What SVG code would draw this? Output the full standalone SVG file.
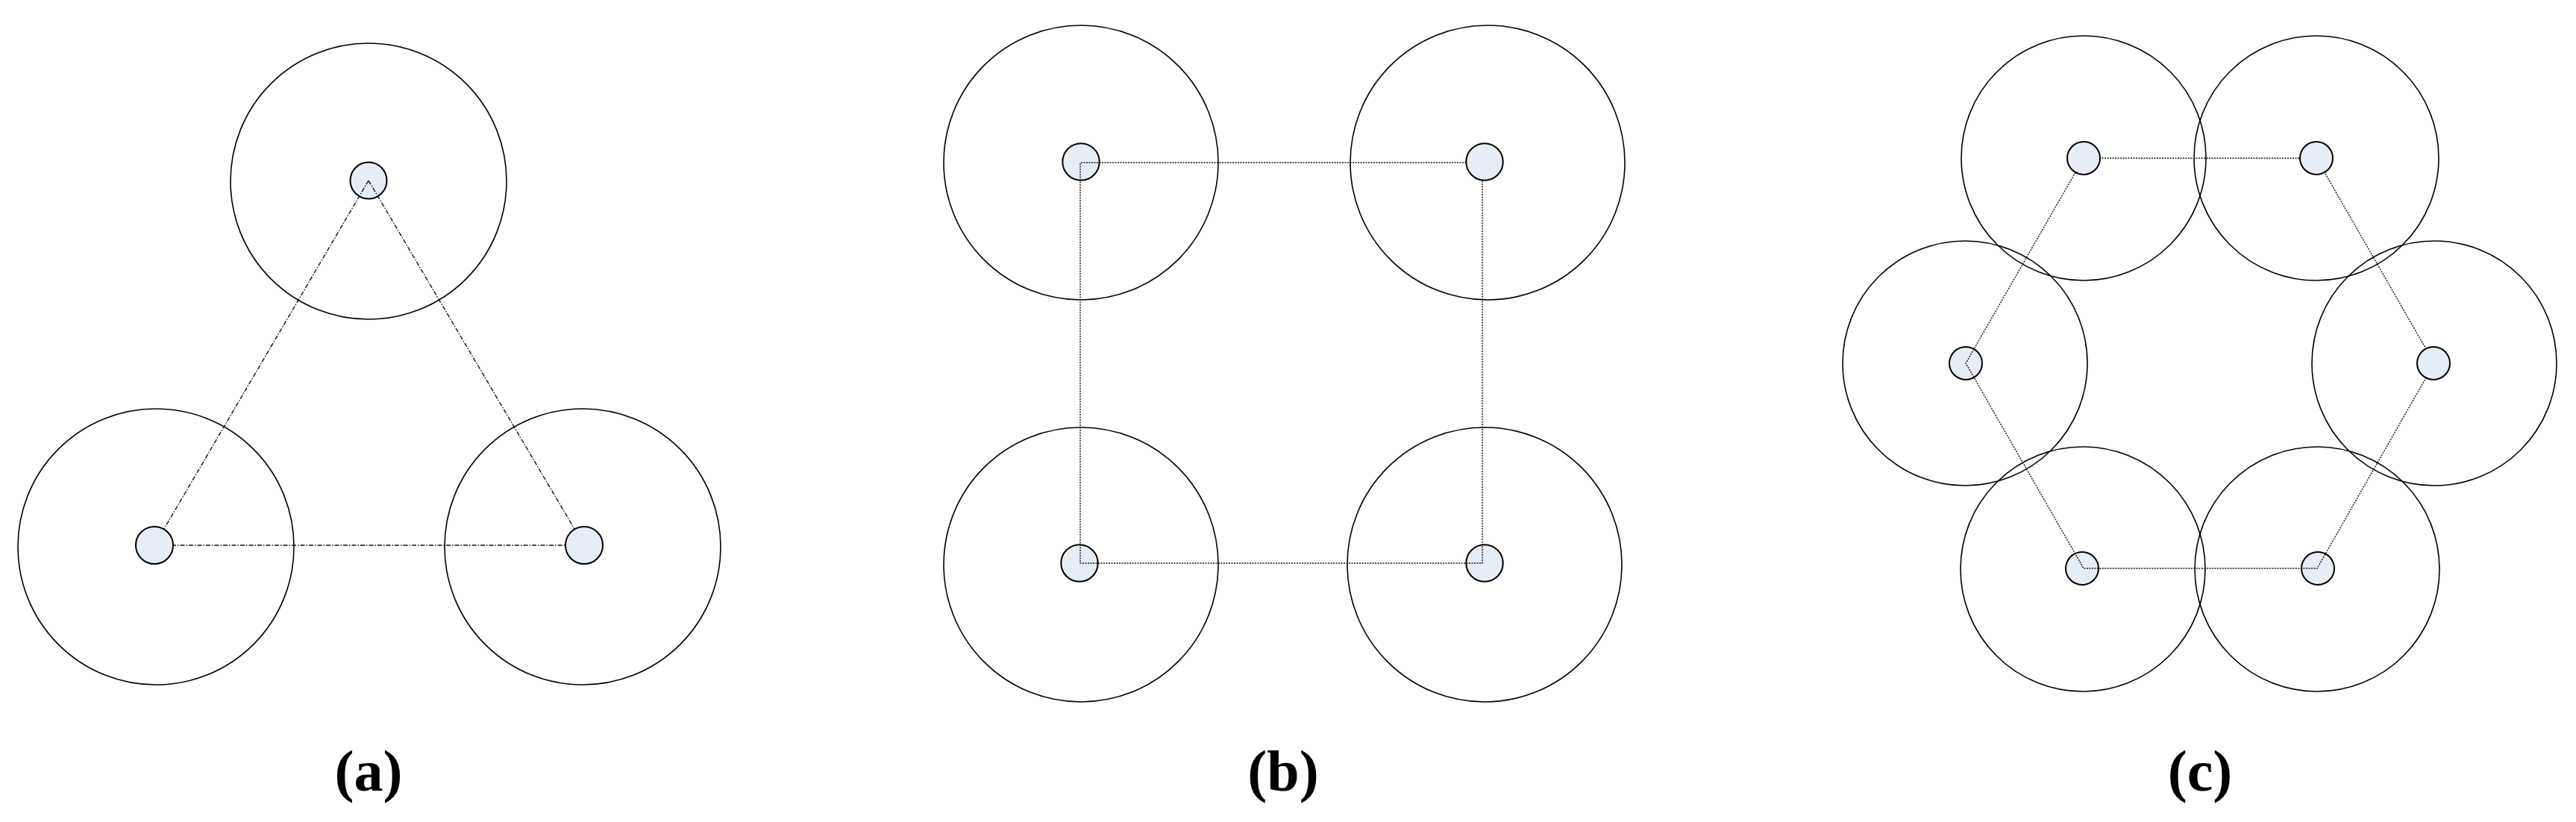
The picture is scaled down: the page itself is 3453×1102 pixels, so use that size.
<svg xmlns="http://www.w3.org/2000/svg" width="3453" height="1102" viewBox="0 0 3453 1102">
<style>
.range{fill:none;stroke:#000;stroke-width:1.6}
.node{fill:#E5EDF7;stroke:#000;stroke-width:2}
.link{stroke:#111;stroke-width:1.4;fill:none}
.dd{stroke-dasharray:6 2 1.5 2}
.dot{stroke-dasharray:2 1.5}
.lbl{font-family:"Liberation Serif","Times New Roman",serif;font-weight:bold;font-size:78px;text-anchor:middle;fill:#000}
</style>
<rect width="3453" height="1102" fill="#fff"/>
<!-- (a) -->
<g id="a-ranges">
<circle class="range" cx="494" cy="243" r="185"/>
<circle class="range" cx="209" cy="733" r="185"/>
<circle class="range" cx="781" cy="733" r="185"/>
</g>
<g id="a-n1"><circle class="node" cx="494" cy="242" r="24.5"/></g>
<g id="a-connectors">
<line class="link dd" x1="494" y1="242" x2="207" y2="731"/>
<line class="link dd" x1="494" y1="242" x2="783" y2="731"/>
<line class="link dd" x1="207" y1="731" x2="783" y2="731"/>
</g>
<g id="a-n2"><circle class="node" cx="207" cy="731" r="25"/></g>
<g id="a-n3"><circle class="node" cx="783" cy="731" r="25"/></g>
<text class="lbl" x="494" y="1060">(a)</text>
<!-- (b) -->
<g id="b-ranges">
<circle class="range" cx="1449" cy="218" r="184"/>
<circle class="range" cx="1994" cy="218" r="184"/>
<circle class="range" cx="1449" cy="757" r="184"/>
<circle class="range" cx="1990" cy="757" r="184"/>
</g>
<g id="b-n1"><circle class="node" cx="1449" cy="217" r="24.7"/></g>
<g id="b-n3"><circle class="node" cx="1990" cy="755" r="24.7"/></g>
<g id="b-n4"><circle class="node" cx="1447" cy="755" r="24.7"/></g>
<g id="b-connectors">
<polyline class="link dot" points="1449,218 1987,218"/>
<polyline class="link dot" points="1987,218 1987,755 1448,755 1448,218"/>
</g>
<g id="b-n2"><circle class="node" cx="1990" cy="217" r="24.7"/></g>
<text class="lbl" x="1720" y="1060">(b)</text>
<!-- (c) -->
<g id="c-ranges">
<circle class="range" cx="2793" cy="212" r="164"/>
<circle class="range" cx="3105" cy="212" r="164"/>
<circle class="range" cx="3263" cy="487" r="164"/>
<circle class="range" cx="3106" cy="763" r="164"/>
<circle class="range" cx="2792" cy="763" r="164"/>
<circle class="range" cx="2634" cy="487" r="164"/>
</g>
<g id="c-n6"><circle class="node" cx="2635" cy="487" r="22"/></g>
<g id="c-n5"><circle class="node" cx="2791" cy="762" r="22"/></g>
<g id="c-n4"><circle class="node" cx="3107" cy="762" r="22"/></g>
<g id="c-connectors">
<polygon class="link dot" points="2793,212 3105,212 3263,487 3106,762 2793,762 2635,487"/>
</g>
<g id="c-n1"><circle class="node" cx="2793" cy="212" r="22"/></g>
<g id="c-n2"><circle class="node" cx="3105" cy="212" r="22"/></g>
<g id="c-n3"><circle class="node" cx="3262" cy="487" r="22"/></g>
<text class="lbl" x="2949" y="1060">(c)</text>
</svg>
